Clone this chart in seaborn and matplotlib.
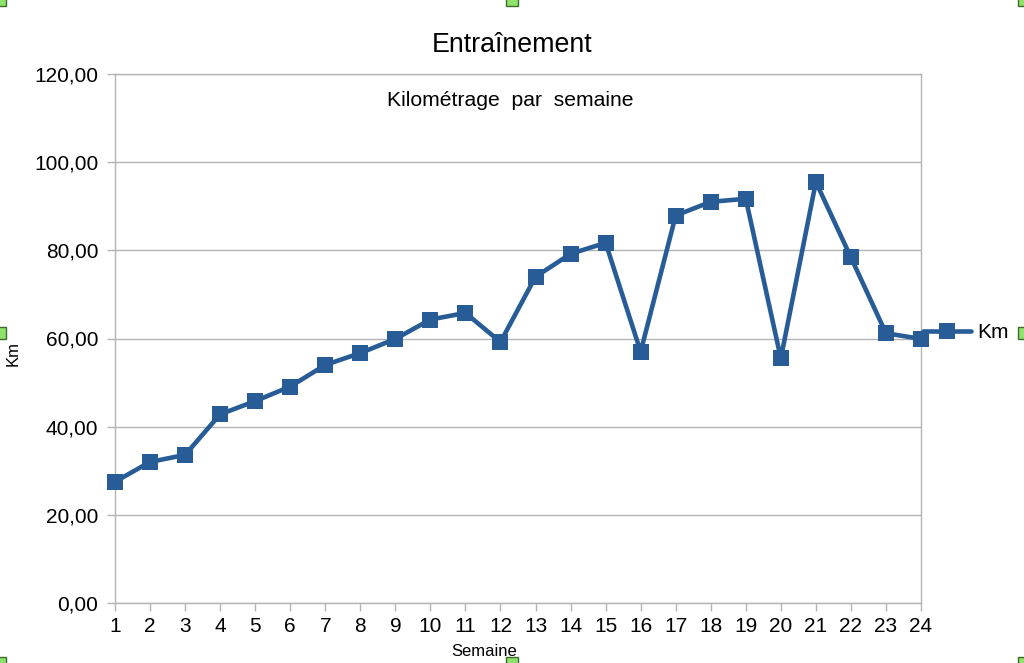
import matplotlib
matplotlib.use("Agg")
import matplotlib.pyplot as plt
import seaborn as sns
import pandas as pd
from matplotlib.ticker import FuncFormatter, MultipleLocator
from matplotlib.patches import Rectangle

# === Data ===
semaines = list(range(1, 25))
km = [27.5, 32.0, 33.6, 42.8, 45.8, 49.1, 54.0, 56.7, 59.9, 64.3, 65.8, 59.2,
      74.0, 79.2, 81.7, 57.0, 87.9, 91.0, 91.7, 55.5, 95.5, 78.4, 61.2, 59.9]

df = pd.DataFrame({"Semaine": semaines, "Km": km})

# === Style ===
sns.set_theme(style="whitegrid")
plt.rcParams["font.family"] = ["Liberation Sans", "DejaVu Sans"]
plt.rcParams["text.color"] = "black"
grey = "#b3b3b3"
blue = "#275c97"

fig = plt.figure(figsize=(10.24, 6.63), dpi=100)
fig.patch.set_facecolor("white")
ax = fig.add_axes([115 / 1024, 1 - 603 / 663, 806 / 1024, 529 / 663])
ax.set_facecolor("white")

sns.lineplot(data=df, x="Semaine", y="Km", ax=ax, color=blue, linewidth=3.3,
             marker="s", markersize=11, markeredgewidth=0, label="Km",
             clip_on=False, zorder=5)

ax.set_xlim(1, 24)
ax.set_ylim(0, 120)
ax.xaxis.set_major_locator(MultipleLocator(1))
ax.yaxis.set_major_locator(MultipleLocator(20))
ax.yaxis.set_major_formatter(FuncFormatter(lambda v, p: f"{v:.2f}".replace(".", ",")))

ax.grid(False, axis="x")
ax.grid(True, axis="y", color=grey, linewidth=1)
for side in ["left", "right", "top", "bottom"]:
    ax.spines[side].set_color(grey)
    ax.spines[side].set_linewidth(1)

ax.tick_params(axis="both", colors=grey, labelcolor="black", labelsize=15)
ax.tick_params(axis="x", bottom=True, length=6, width=1, pad=4)
ax.tick_params(axis="y", left=True, length=6, width=1, pad=6)

ax.set_xlabel("")
ax.set_ylabel("")
fig.text(484 / 1024, 1 - 651 / 663, "Semaine", ha="center", va="center", fontsize=12)
fig.text(13 / 1024, 1 - 353 / 663, "Km", ha="center", va="center", rotation=90, fontsize=12)

fig.text(512 / 1024, 1 - 45 / 663, "Entraînement", ha="center", va="center", fontsize=19.3)
fig.text(510 / 1024, 1 - 101 / 663, "Kilométrage  par  semaine", ha="center", va="center",
         fontsize=15.2)

leg = ax.legend(loc="center left", bbox_to_anchor=(923 / 1024, 1 - 333 / 663),
                bbox_transform=fig.transFigure, frameon=False, fontsize=15,
                handlelength=2.3, handletextpad=0.3, borderpad=0, borderaxespad=0,
                numpoints=1)
for t in leg.get_texts():
    t.set_color("black")

# selection handles
for hx, hy in [(0, 0), (512, 0), (1024, 0), (0, 333), (1024, 333),
               (0, 663), (512, 663), (1024, 663)]:
    fig.patches.append(Rectangle(((hx - 6) / 1024, 1 - (hy + 6) / 663), 12 / 1024, 12 / 663,
                                 transform=fig.transFigure, facecolor="#8fe26c",
                                 edgecolor="#3d6b2c", linewidth=1, zorder=10))

fig.savefig("out.png", dpi=100)
